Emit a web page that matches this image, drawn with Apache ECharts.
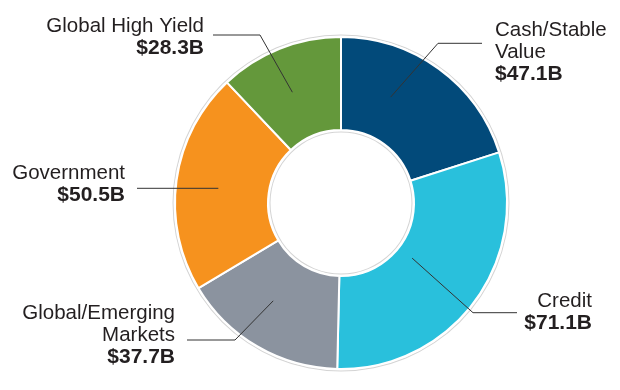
<!DOCTYPE html>
<html>
<head>
<meta charset="utf-8">
<script src="https://cdn.jsdelivr.net/npm/echarts@6/dist/echarts.min.js"></script>
<style>
html,body{margin:0;padding:0;background:#fff;}
#chart{width:620px;height:390px;}
</style>
</head>
<body>
<div id="chart"></div>
<script>
// ---- data ----
var categories = ['Cash/Stable\nValue', 'Credit', 'Global/Emerging\nMarkets', 'Government', 'Global High Yield'];
var values = [47.1, 71.1, 37.7, 50.5, 28.3];
var colors = ['#024a7a', '#29c0dc', '#8b939f', '#f6921e', '#64983b'];

// ---- label layout (annotation placement) ----
var labelPos = [
  {x: 495, y: 19,  align: 'left',  lineY: 43.3,  elbowX: 438, endX: 482, rStart: 117, angOff: 11},
  {x: 592, y: 290, align: 'right', lineY: 312.7, elbowX: 473, endX: 517, rStart: 90,  angOff: -1},
  {x: 175, y: 302, align: 'right', lineY: 340,   elbowX: 235, endX: 187, rStart: 119, angOff: -4.5},
  {x: 125, y: 162, align: 'right', lineY: 188.3, elbowX: null, endX: 137, rStart: 123.6, angOff: 1},
  {x: 204, y: 15,  align: 'right', lineY: 35,    elbowX: 260, endX: 213, rStart: 121, angOff: 2}
];

var CX = 341, CY = 203, R_OUT = 166, R_IN = 73;
var total = values.reduce(function (a, b) { return a + b; }, 0);
var midAngles = [];
(function () {
  var acc = 0;
  for (var i = 0; i < values.length; i++) {
    var span = values[i] / total * 360;
    midAngles.push(90 - acc - span / 2);
    acc += span;
  }
})();

var chart = echarts.init(document.getElementById('chart'), null, {renderer: 'canvas'});

var sliceData = categories.map(function (c, i) {
  return {name: c, value: values[i], itemStyle: {color: colors[i]}};
});

var labelData = categories.map(function (c, i) {
  var al = labelPos[i].align;
  return {
    name: c,
    value: values[i],
    itemStyle: {color: 'rgba(0,0,0,0)'},
    label: {
      align: al,
      rich: {
        n: {fontFamily: 'Liberation Sans', fontSize: 20.5, lineHeight: 22, color: '#231f20', align: al},
        v: {fontFamily: 'Liberation Sans', fontSize: 21, lineHeight: 22, color: '#231f20', fontWeight: 'bold', align: al}
      }
    }
  };
});

chart.setOption({
  backgroundColor: '#ffffff',
  animation: false,
  series: [
    {
      type: 'pie',
      silent: true,
      center: [CX, CY],
      radius: [R_OUT + 1.5, R_OUT + 2.5],
      startAngle: 90,
      label: {show: false},
      labelLine: {show: false},
      data: [{value: 1, itemStyle: {color: '#d4d4d4'}}]
    },
    {
      type: 'pie',
      silent: true,
      center: [CX, CY],
      radius: [R_IN - 2.5, R_IN - 1.5],
      startAngle: 90,
      label: {show: false},
      labelLine: {show: false},
      data: [{value: 1, itemStyle: {color: '#d4d4d4'}}]
    },
    {
      type: 'pie',
      silent: true,
      center: [CX, CY],
      radius: [R_IN, R_OUT],
      startAngle: 90,
      clockwise: true,
      itemStyle: {borderColor: '#ffffff', borderWidth: 2},
      label: {show: false},
      labelLine: {show: false},
      data: sliceData
    },
    {
      type: 'pie',
      silent: true,
      z: 5,
      center: [CX, CY],
      radius: [R_IN, R_OUT],
      startAngle: 90,
      clockwise: true,
      avoidLabelOverlap: false,
      itemStyle: {borderWidth: 0},
      label: {
        show: true,
        position: 'outside',
        formatter: function (p) {
          var lines = p.name.split('\n').map(function (s) { return '{n|' + s + '}'; });
          lines.push('{v|$' + p.value.toFixed(1) + 'B}');
          return lines.join('\n');
        }
      },
      labelLine: {
        show: true,
        smooth: false,
        length: 10,
        length2: 10,
        lineStyle: {color: '#333333', width: 1}
      },
      labelLayout: function (params) {
        var i = params.dataIndex;
        var lp = labelPos[i];
        var ang = (midAngles[i] + lp.angOff) * Math.PI / 180;
        var sx = CX + lp.rStart * Math.cos(ang);
        var sy = CY - lp.rStart * Math.sin(ang);
        var ex = lp.elbowX === null ? sx : lp.elbowX;
        return {
          x: lp.x,
          y: lp.y,
          align: lp.align,
          verticalAlign: 'top',
          labelLinePoints: [[sx, sy], [ex, lp.lineY], [lp.endX, lp.lineY]]
        };
      },
      data: labelData
    }
  ]
});
</script>
</body>
</html>
